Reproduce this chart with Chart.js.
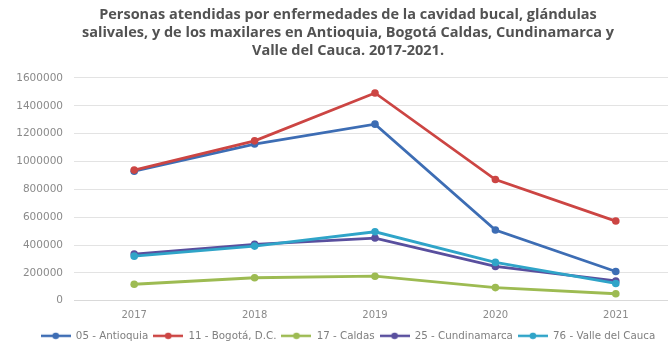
<!DOCTYPE html>
<html>
<head>
<meta charset="utf-8">
<script src="https://cdn.jsdelivr.net/npm/chart.js@4/dist/chart.umd.min.js"></script>
<style>
  html, body { margin: 0; padding: 0; background: #fff; overflow: hidden; }
  #wrap { width: 668px; height: 352px; overflow: hidden; position: relative; }
  canvas { position: absolute; left: 0; top: 0; }
</style>
</head>
<body>
<div id="wrap"><canvas id="chart" width="696" height="352"></canvas></div>
<script>
// --- data ---
const years = ['2017', '2018', '2019', '2020', '2021'];
const antioquia    = [930000, 1125000, 1268000, 508000, 210000];
const bogota       = [938000, 1148000, 1492000, 870000, 572000];
const caldas       = [118000, 165000, 176000, 94000, 50000];
const cundinamarca = [335000, 405000, 450000, 246000, 142000];
const valle        = [320000, 392000, 495000, 275000, 124000];

const seriesNames = ['05 - Antioquia', '11 - Bogotá, D.C.', '17 - Caldas', '25 - Cundinamarca', '76 - Valle del Cauca'];
const seriesColors = ['#3D6DB4', '#CC4543', '#9DBB52', '#594F9E', '#2FA4C8'];
const seriesData = [antioquia, bogota, caldas, cundinamarca, valle];

const titleLines = [
  'Personas atendidas por enfermedades de la cavidad bucal, glándulas',
  'salivales, y de los maxilares en Antioquia, Bogotá Caldas, Cundinamarca y',
  'Valle del Cauca. 2017-2021.'
];

const tickFont = "'DejaVu Sans', sans-serif";

// legend marker: short line with a dot in the middle
function legendMarker(color) {
  const c = document.createElement('canvas');
  c.width = 30; c.height = 8;
  const g = c.getContext('2d');
  g.strokeStyle = color;
  g.lineWidth = 2.5;
  g.beginPath(); g.moveTo(0, 4); g.lineTo(30, 4); g.stroke();
  g.fillStyle = color;
  g.beginPath(); g.arc(15, 4, 3.3, 0, Math.PI * 2); g.fill();
  return c;
}

const datasets = seriesData.map((d, i) => ({
  label: seriesNames[i],
  data: d,
  borderColor: seriesColors[i],
  backgroundColor: seriesColors[i],
  borderWidth: 2.8,
  pointRadius: 3.8,
  pointBorderWidth: 0,
  pointStyle: 'circle',
  tension: 0,
  order: seriesData.length - i   // later series drawn on top
}));

const ctx = document.getElementById('chart').getContext('2d');
new Chart(ctx, {
  type: 'line',
  data: { labels: years, datasets: datasets },
  options: {
    responsive: false,
    animation: false,
    layout: { padding: { left: 0, right: 0, top: 6, bottom: 1 } },
    scales: {
      x: {
        offset: true,
        grid: { display: false, drawTicks: false },
        border: { display: true, color: '#d9d9d9' },
        ticks: { color: '#8a8a8a', padding: 9, font: { family: tickFont, size: 10 } },
        afterFit: s => { s.height = 25; }
      },
      y: {
        min: 0, max: 1600000,
        grid: { color: '#e3e3e3', drawTicks: false },
        border: { display: false },
        ticks: {
          stepSize: 200000,
          color: '#8a8a8a',
          padding: 11,
          font: { family: tickFont, size: 10.5 },
          callback: v => String(v)
        },
        afterFit: s => { s.width = 74; }
      },
      // empty right-hand spacer so the plot stops short of the canvas edge
      spacer: {
        type: 'linear',
        position: 'right',
        grid: { display: false },
        border: { display: false },
        ticks: { display: false },
        afterFit: s => { s.width = 20; }
      }
    },
    plugins: {
      title: {
        display: true,
        text: titleLines,
        color: '#525252',
        font: { family: "'Open Sans', sans-serif", size: 14.5, weight: 'bold', lineHeight: 1.24 },
        padding: { top: 0, bottom: 18 }
      },
      legend: {
        position: 'bottom',
        labels: {
          color: '#7f7f7f',
          font: { family: tickFont, size: 10.3 },
          padding: 5,
          boxHeight: 8,
          usePointStyle: true,
          pointStyleWidth: 30,
          sort: (a, b) => a.datasetIndex - b.datasetIndex,
          generateLabels: chart => chart.data.datasets.map((ds, i) => ({
            text: ds.label,
            fontColor: '#7f7f7f',
            pointStyle: legendMarker(ds.borderColor),
            datasetIndex: i,
            hidden: false,
            lineWidth: 0,
            strokeStyle: 'transparent',
            fillStyle: 'transparent'
          }))
        }
      },
      tooltip: { enabled: false }
    }
  }
});
</script>
</body>
</html>
